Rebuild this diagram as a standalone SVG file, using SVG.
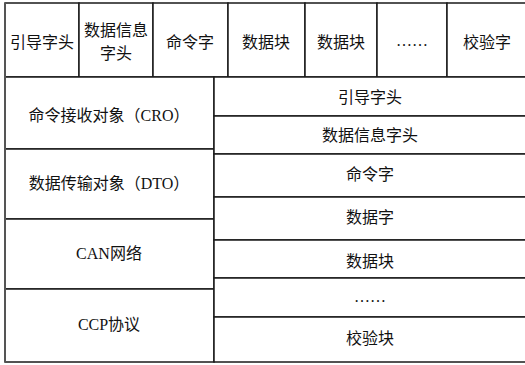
<svg xmlns="http://www.w3.org/2000/svg" width="525" height="365" viewBox="0 0 525 365">
<style>
.t{font-family:"Liberation Serif","Noto Sans CJK SC",serif;font-size:16px;fill:#111;text-anchor:middle;dominant-baseline:central}
.c{fill:#fff;stroke:#1a1a1a;stroke-width:1.5}
</style>
<rect x="0" y="0" width="525" height="365" fill="#fff"/>
<g id="top-row">
<g id="t1"><rect class="c" x="5" y="3" width="74" height="74"/><text class="t" x="42" y="42">引导字头</text></g>
<g id="t2"><rect class="c" x="79" y="3" width="74" height="74"/><text class="t" x="116" y="30">数据信息</text><text class="t" x="116" y="53">字头</text></g>
<g id="t3"><rect class="c" x="153" y="3" width="75" height="74"/><text class="t" x="190" y="42">命令字</text></g>
<g id="t4"><rect class="c" x="228" y="3" width="77" height="74"/><text class="t" x="266" y="42">数据块</text></g>
<g id="t5"><rect class="c" x="305" y="3" width="72" height="74"/><text class="t" x="341" y="42">数据块</text></g>
<g id="t6"><rect class="c" x="377" y="3" width="70" height="74"/><text class="t" x="412" y="40">……</text></g>
<g id="t7"><rect class="c" x="447" y="3" width="82" height="74"/><text class="t" x="487" y="42">校验字</text></g>
</g>
<g id="left-col">
<g id="l1"><rect class="c" x="5" y="77" width="209" height="72"/><text class="t" x="109" y="115">命令接收对象（CRO）</text></g>
<g id="l2"><rect class="c" x="5" y="149" width="209" height="70"/><text class="t" x="109" y="183">数据传输对象（DTO）</text></g>
<g id="l3"><rect class="c" x="5" y="219" width="209" height="70"/><text class="t" x="109" y="253">CAN网络</text></g>
<g id="l4"><rect class="c" x="5" y="289" width="209" height="73"/><text class="t" x="109" y="324">CCP协议</text></g>
</g>
<g id="right-col">
<g id="r1"><rect class="c" x="214" y="77" width="315" height="39"/><text class="t" x="370" y="97">引导字头</text></g>
<g id="r2"><rect class="c" x="214" y="116" width="315" height="38"/><text class="t" x="370" y="135">数据信息字头</text></g>
<g id="r3"><rect class="c" x="214" y="154" width="315" height="43"/><text class="t" x="370" y="174">命令字</text></g>
<g id="r4"><rect class="c" x="214" y="197" width="315" height="43"/><text class="t" x="370" y="217">数据字</text></g>
<g id="r5"><rect class="c" x="214" y="240" width="315" height="38"/><text class="t" x="370" y="261">数据块</text></g>
<g id="r6"><rect class="c" x="214" y="278" width="315" height="39"/><text class="t" x="370" y="296">……</text></g>
<g id="r7"><rect class="c" x="214" y="317" width="315" height="45"/><text class="t" x="370" y="338">校验块</text></g>
</g>
<g id="connectors">
<line x1="5" y1="3" x2="5" y2="362" stroke="#555" stroke-width="2"/>
</g>
</svg>
